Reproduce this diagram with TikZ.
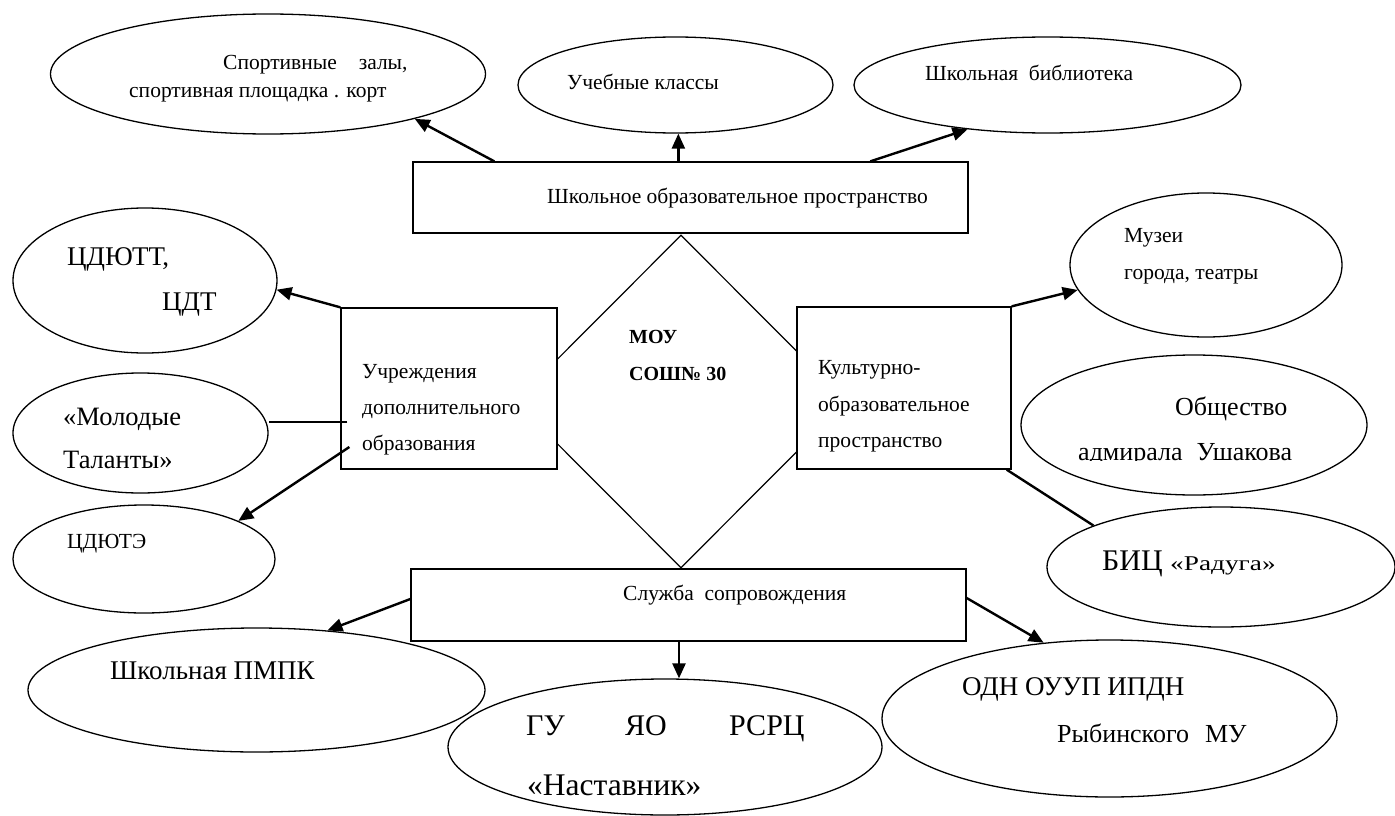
\documentclass[tikz,border=0pt]{standalone}
\usepackage{fontspec}
\setmainfont{Liberation Serif}
\newfontfamily\tnr{Liberation Serif}
\newfontfamily\tnrwide{Liberation Serif}[FakeStretch=1.3]
\usetikzlibrary{shapes.geometric,arrows.meta}
\begin{document}
\begin{tikzpicture}[x=1pt,y=-1pt,
 ell/.style={ellipse,draw,line width=1.3pt,inner sep=0pt},
 box/.style={rectangle,draw,fill=white,line width=1.3pt,inner sep=0pt},
 dia/.style={diamond,draw,line width=1.2pt,inner sep=0pt},
 arr/.style={line width=2.4pt,-{Triangle[length=15pt,width=13pt]}},
 conn/.style={line width=2.4pt},
 lbl/.style={anchor=base west,inner sep=0pt},
 fa/.style={font=\tnr\fontsize{21.5}{26}\selectfont},
 fr/.style={font=\tnrwide\fontsize{21}{25}\selectfont},
 fm/.style={font=\tnr\fontsize{20}{24}\selectfont\bfseries},
 fb/.style={font=\tnr\fontsize{26.5}{32}\selectfont},
 fo/.style={font=\tnr\fontsize{26}{31}\selectfont},
 fp/.style={font=\tnr\fontsize{27}{32}\selectfont},
 fc/.style={font=\tnr\fontsize{30}{36}\selectfont},
 fn/.style={font=\tnr\fontsize{31.5}{38}\selectfont},
 fd/.style={font=\tnr\fontsize{30}{36}\selectfont}]
\useasboundingbox (0,0) rectangle (1395,816);

% central diamond and boxes
\node[dia,minimum width=332pt,minimum height=333pt] (d) at (681,401.5) {};
\node[box,minimum width=555pt,minimum height=71pt] (r1) at (690.5,197.5) {};
\node[box,minimum width=216pt,minimum height=161pt] (r2) at (449,388.5) {};
\node[box,minimum width=214pt,minimum height=162pt] (r3) at (904,388) {};
\node[box,minimum width=555pt,minimum height=72pt] (r4) at (688.5,605) {};

% ellipses
\node[ell,minimum width=435pt,minimum height=120pt] (e1) at (268,74) {};
\node[ell,minimum width=315pt,minimum height=96pt] (e2) at (675.5,85) {};
\node[ell,minimum width=387pt,minimum height=96pt] (e3) at (1047.5,85) {};
\node[ell,minimum width=264pt,minimum height=145pt] (e4) at (145,280.5) {};
\node[ell,minimum width=255pt,minimum height=120pt] (e5) at (140.5,433) {};
\node[ell,minimum width=262pt,minimum height=108pt] (e6) at (144,559) {};
\node[ell,minimum width=272pt,minimum height=144pt] (e7) at (1206,265) {};
\node[ell,minimum width=346pt,minimum height=140pt] (e8) at (1194,425) {};
\node[ell,minimum width=348pt,minimum height=120pt] (e9) at (1221,567) {};
\node[ell,minimum width=457pt,minimum height=124pt] (e10) at (256.5,690) {};
\node[ell,minimum width=434pt,minimum height=136pt] (e11) at (665,747) {};
\node[ell,minimum width=455pt,minimum height=157pt] (e12) at (1109.5,718.5) {};

% connectors
\draw[arr] ([xshift=82pt]r1.north west) -- (e1.-17);
\coordinate (s2) at ([xshift=266pt]r1.north west);
\draw[arr] (s2) -- (s2 |- e2.south);
\draw[arr] ([xshift=458pt]r1.north west) -- (e3.209);
\draw[arr] (r2.north west) -- (e4.-4);
\coordinate (s5) at ([shift={(7pt,-33.5pt)}]r2.west);
\draw[conn] (s5) -- (s5 -| e5.east);
\draw[arr] ([shift={(9pt,-58.5pt)}]r2.west) -- (e6.22);
\draw[arr] (r3.north east) -- (e7.191);
\draw[conn] ([xshift=-5pt]r3.south east) -- (e9.162);
\draw[arr] ([yshift=6pt]r4.west) -- (e10.40);
\coordinate (s10) at ([xshift=-9.5pt]r4.south);
\draw[arr] (s10) -- (s10 |- e11.north);
\draw[arr] ([yshift=7pt]r4.east) -- (e12.131);

% labels
\node[lbl,fa] (t1a) at (223,70) {Спортивные\hspace{22pt}залы,};
\node[lbl,fa] (t1b) at (129,97) {спортивная площадка . корт};
\node[lbl,fa] (t2) at (567,89) {Учебные классы};
\node[lbl,fa] (t3) at (925,81) {Школьная\ \ библиотека};
\node[lbl,fa] (tr1) at (547,203) {Школьное образовательное пространство};
\node[lbl,fp] (t4a) at (67,265) {ЦДЮТТ,};
\node[lbl,fp] (t4b) at (162,310) {ЦДТ};
\node[lbl,fa] (tr2a) at (362,378) {Учреждения};
\node[lbl,fa] (tr2b) at (362,414) {дополнительного};
\node[lbl,fa] (tr2c) at (362,450) {образования};
\node[lbl,fb] (t5a) at (63,425) {«Молодые};
\node[lbl,fb] (t5b) at (63,468) {Таланты»};
\node[lbl,fa] (t6) at (67,548) {ЦДЮТЭ};
\node[lbl,fm] (tda) at (629,343) {МОУ};
\node[lbl,fm] (tdb) at (629,380) {СОШ№ 30};
\node[lbl,fa] (tr3a) at (818,374) {Культурно-};
\node[lbl,fa] (tr3b) at (818,411) {образовательное};
\node[lbl,fa] (tr3c) at (818,447) {пространство};
\node[lbl,fa] (t7a) at (1124,242) {Музеи};
\node[lbl,fa] (t7b) at (1124,279) {города, театры};
\node[lbl,fo] (t8a) at (1175,415) {Общество};
\begin{scope}
\clip (1000,380) rectangle (1395,460.5);
\node[lbl,fo] (t8b) at (1078,460) {адмирала\hspace{14pt}Ушакова};
\end{scope}
\node[lbl,fd] (t9a) at (1102,570) {БИЦ};
\node[lbl,fr] (t9b) at (1170,570) {«Радуга»};
\node[lbl,fa] (tr4) at (623,600) {Служба\ \ сопровождения};
\node[lbl,fp] (t10) at (110,679) {Школьная ПМПК};
\node[lbl,fc] (t11a) at (526,735) {ГУ};
\node[lbl,fc] (t11b) at (625,735) {ЯО};
\node[lbl,fc] (t11c) at (729,735) {РСРЦ};
\node[lbl,fn] (t11d) at (527,795) {«Наставник»};
\node[lbl,fp] (t12a) at (962,695) {ОДН ОУУП ИПДН};
\node[lbl,fo] (t12b) at (1057,742) {Рыбинского\hspace{16pt}МУ};
\end{tikzpicture}
\end{document}
